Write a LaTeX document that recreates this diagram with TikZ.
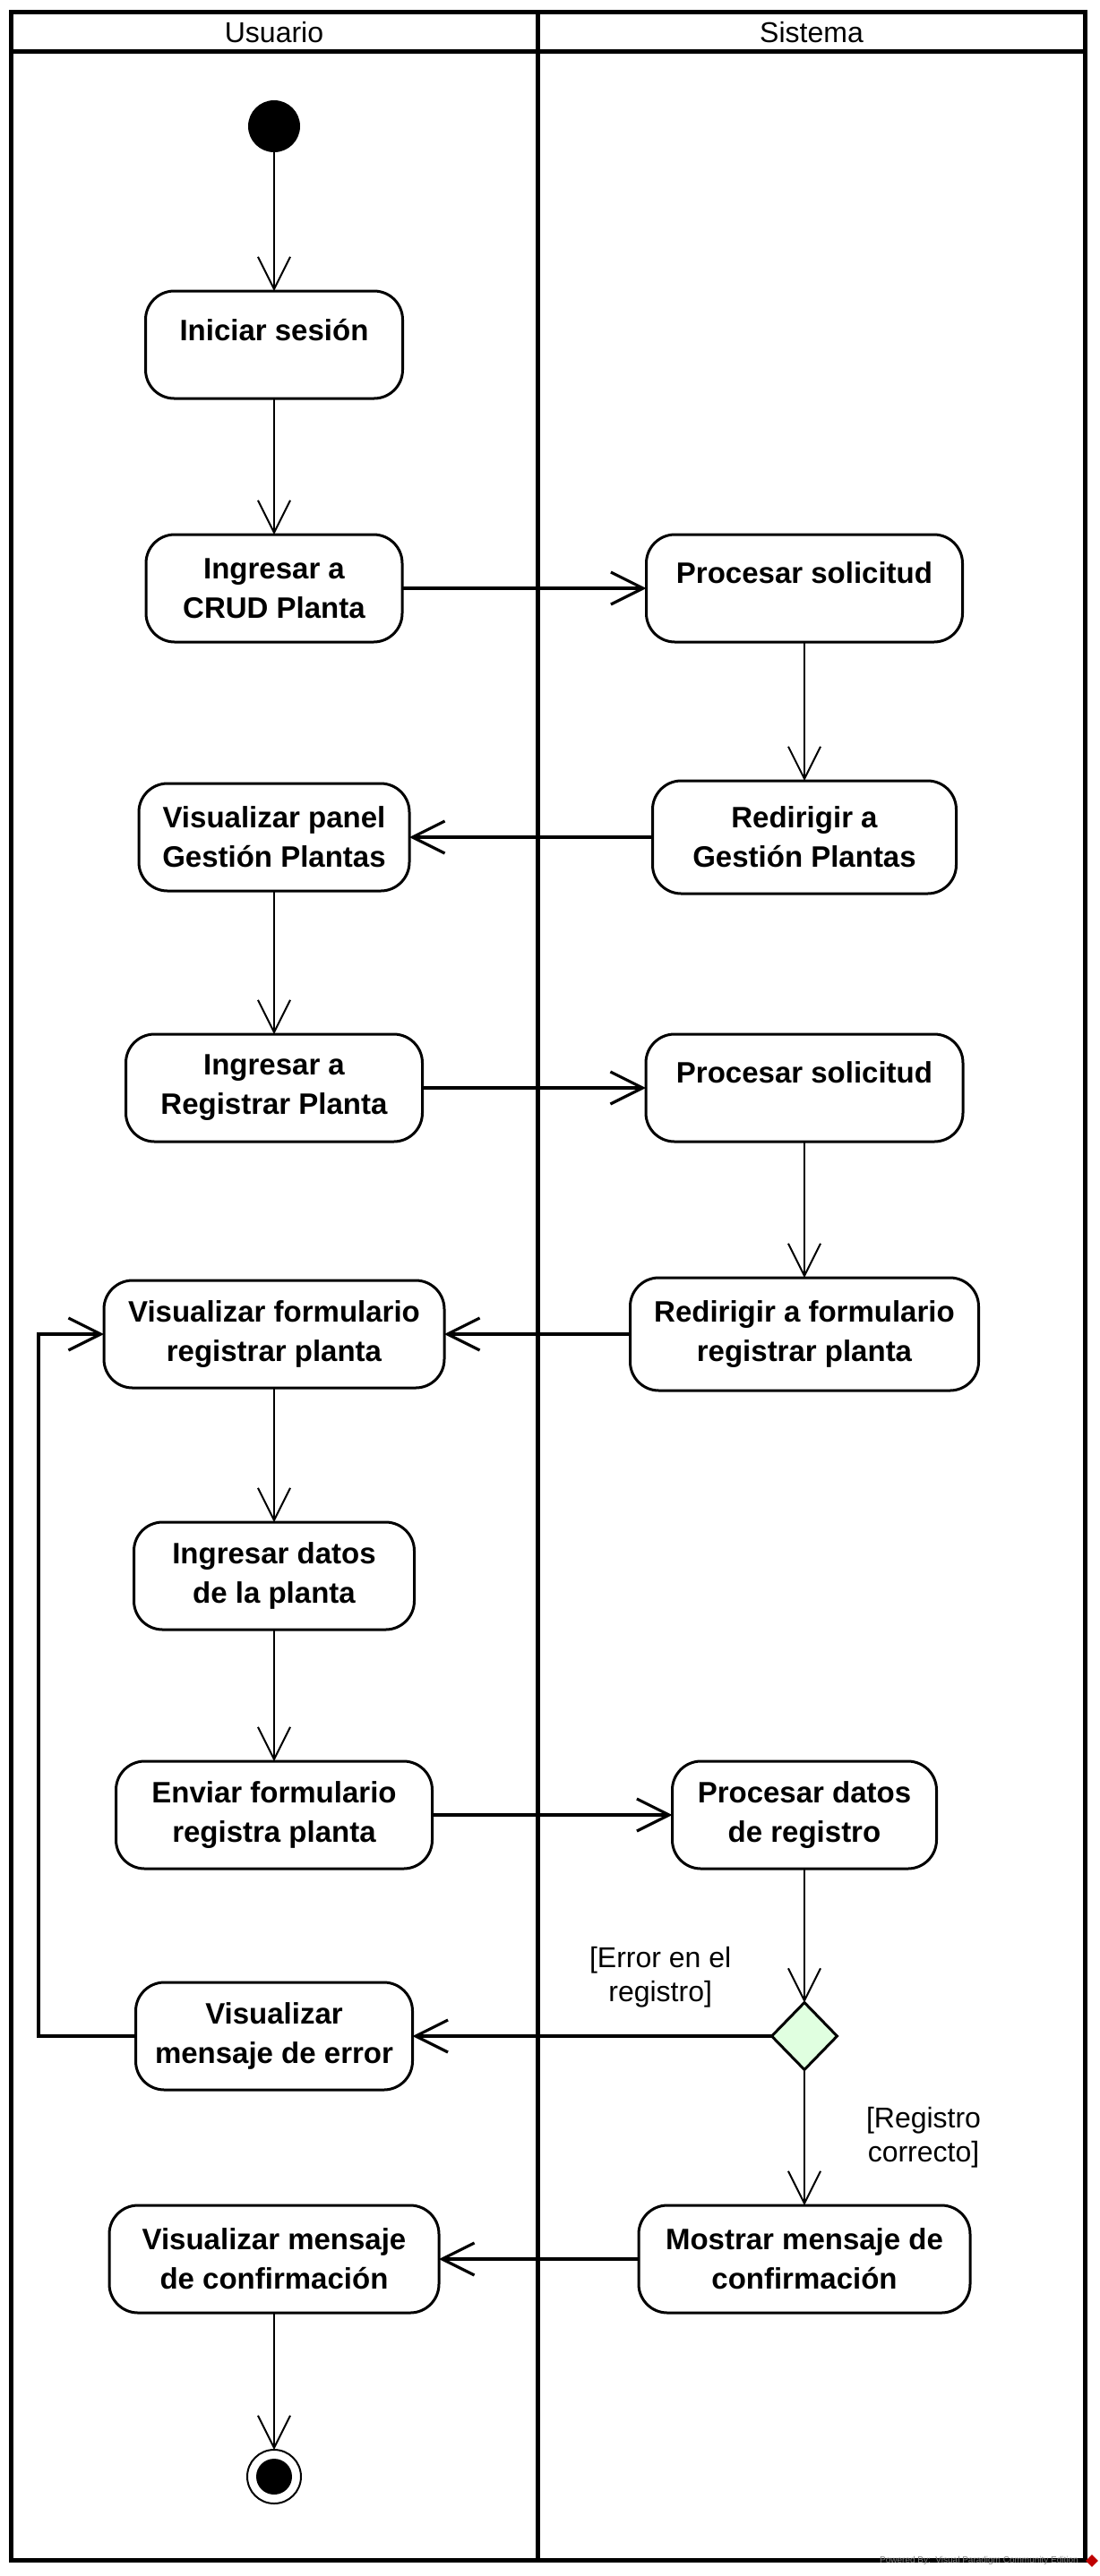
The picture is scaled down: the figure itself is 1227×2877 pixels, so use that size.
\documentclass[tikz,border=0pt]{standalone}
\usepackage{fontspec}
\setmainfont{Liberation Sans}
\usetikzlibrary{positioning,shapes.geometric,arrows.meta}
\definecolor{verdeclaro}{RGB}{224,255,224}

\begin{document}
\begin{tikzpicture}[x=0.5pt,y=-0.5pt,
    carril/.style={line width=2.5pt},
    cabecera/.style={font=\fontsize{16}{19}\selectfont},
    accion/.style={draw,line width=1.5pt,rounded corners=16pt,minimum height=60pt,align=center,inner sep=2pt,outer sep=0pt,font=\fontsize{16.5}{22}\selectfont\bfseries},
    unalinea/.style={text depth=17pt},
    inicio/.style={circle,fill=black,minimum size=29pt,inner sep=0pt,outer sep=0pt},
    fin/.style={circle,draw,line width=1pt,minimum size=30pt,inner sep=0pt,outer sep=0pt,path picture={\fill (path picture bounding box.center) circle (10pt);}},
    decision/.style={diamond,draw,line width=1.5pt,fill=verdeclaro,minimum width=36.5pt,minimum height=37.5pt,inner sep=0pt,outer sep=0pt},
    guarda/.style={align=center,inner sep=0pt,font=\fontsize{16}{19}\selectfont},
    flecha/.style={-{Straight Barb[length=18pt,width=18pt]},line width=1pt},
    flechah/.style={flecha,line width=1.6pt}]
      \useasboundingbox (0,0) rectangle (1227,2877);

      % carriles
      \draw[carril] (12,13) rectangle (1211,2859);
      \draw[carril] (12,57) -- (1211,57);
      \draw[carril] (600,13) -- (600,2859);
      \node[cabecera] (Usuario) at (306,36) {Usuario};
      \node[cabecera] (Sistema) at (906,36) {Sistema};
      \coordinate (ColSistema) at (898,0);
      \coordinate (Retorno) at (43,1900);

      \node[inicio]                                                      (Inicio)        at (306,141) {};
      \node[accion,unalinea,below=77.5pt of Inicio,minimum width=143.5pt]  (IniciarSesion) {Iniciar sesión};
      \node[accion,below=76pt of IniciarSesion,minimum width=143pt]        (IngresarCrud)  {Ingresar a\\CRUD Planta};
      \node[accion,below=79pt of IngresarCrud,minimum width=151pt]         (VisPanel)      {Visualizar panel\\Gestión Plantas};
      \node[accion,below=80pt of VisPanel,minimum width=165.5pt]           (IngresarReg)   {Ingresar a\\Registrar Planta};
      \node[accion,below=77.5pt of IngresarReg,minimum width=190pt]        (VisForm)       {Visualizar formulario\\registrar planta};
      \node[accion,below=75pt of VisForm,minimum width=156.5pt]            (IngresarDatos) {Ingresar datos\\de la planta};
      \node[accion,below=73.5pt of IngresarDatos,minimum width=176.5pt]    (Enviar)        {Enviar formulario\\registra planta};
      \node[accion,below=63.5pt of Enviar,minimum width=154.5pt]           (VisError)      {Visualizar\\mensaje de error};
      \node[accion,below=64.5pt of VisError,minimum width=184pt]           (VisConf)       {Visualizar mensaje\\de confirmación};
      \node[fin,below=76.5pt of VisConf]                                   (Fin)           {};

      \node[accion,unalinea,minimum width=176.5pt] (Procesar1)  at (IngresarCrud -| ColSistema) {Procesar solicitud};
      \node[accion,minimum width=169.5pt,minimum height=63pt] (Redirigir1) at (VisPanel -| ColSistema) {Redirigir a\\Gestión Plantas};
      \node[accion,unalinea,minimum width=177pt]   (Procesar2)  at (IngresarReg -| ColSistema) {Procesar solicitud};
      \node[accion,minimum width=194.5pt,minimum height=63pt] (RedirForm)  at (VisForm -| ColSistema) {Redirigir a formulario\\registrar planta};
      \node[accion,minimum width=147.5pt]          (ProcDatos)  at (Enviar -| ColSistema) {Procesar datos\\de registro};
      \node[decision]                              (Decision)   at (VisError -| ColSistema) {};
      \node[accion,minimum width=185pt]            (Mostrar)    at (VisConf -| ColSistema) {Mostrar mensaje de\\confirmación};

      \path[flecha] (Inicio)        edge (IniciarSesion)
                    (IniciarSesion) edge (IngresarCrud)
                    (VisPanel)      edge (IngresarReg)
                    (VisForm)       edge (IngresarDatos)
                    (IngresarDatos) edge (Enviar)
                    (VisConf)       edge (Fin)
                    (Procesar1)     edge (Redirigir1)
                    (Procesar2)     edge (RedirForm)
                    (ProcDatos)     edge (Decision)
                    (Decision)      edge node[guarda,right=34pt] {[Registro\\correcto]} (Mostrar);
      \path[flechah] (IngresarCrud) edge (Procesar1)
                     (Redirigir1)   edge (VisPanel)
                     (IngresarReg)  edge (Procesar2)
                     (RedirForm)    edge (VisForm)
                     (Enviar)       edge (ProcDatos)
                     (Decision)     edge node[guarda,pos=0.31,above=15pt] {[Error en el\\registro]} (VisError)
                     (Mostrar)      edge (VisConf);
      \draw[flechah] (VisError.west) -| (Retorno) |- (VisForm.west);

      \node[text=gray,font=\fontsize{5}{6}\selectfont,inner sep=0pt] (Marca) at (1093,2860) {Powered By:\ \ Visual Paradigm Community Edition};
      \node[diamond,fill=red!75!black,minimum size=7pt,inner sep=0pt] (Logo) at (1219,2860) {};
\end{tikzpicture}
\end{document}
